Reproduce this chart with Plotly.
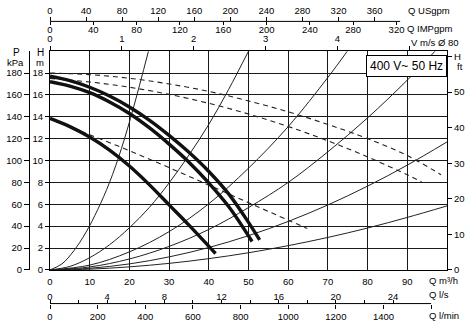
import plotly.graph_objects as go

# ---------------- data (Q in m3/h, H in m) ----------------
# pump curves (thick)
pump1_q = [0, 5, 10, 15, 20, 25, 30, 35, 40, 45, 50, 52.8]
pump1_h = [17.7, 17.3, 16.7, 15.9, 14.9, 13.7, 12.3, 10.75, 9.0, 6.95, 4.35, 2.75]
pump2_q = [0, 5, 10, 15, 20, 25, 30, 35, 40, 45, 50.9]
pump2_h = [17.2, 16.8, 16.2, 15.35, 14.3, 13.0, 11.5, 9.85, 7.95, 5.8, 2.6]
pump3_q = [0, 5, 10, 15, 20, 25, 30, 35, 41.7]
pump3_h = [13.85, 13.1, 12.15, 10.95, 9.5, 7.8, 5.95, 4.1, 1.5]

# dashed curves
dash1_q = [0, 10, 20, 30, 40, 50, 60, 70, 80, 90, 98.5]
dash1_h = [18.0, 17.85, 17.52, 17.0, 16.32, 15.45, 14.45, 13.3, 12.0, 10.45, 8.7]
dash2_q = [0, 10, 20, 30, 40, 50, 60, 70, 80, 90, 93.6]
dash2_h = [17.5, 17.18, 16.7, 16.05, 15.23, 14.25, 13.11, 11.8, 10.33, 8.69, 8.06]
dash3_q = [1.5, 10, 20, 30, 40, 50, 60, 64.8]
dash3_h = [13.55, 12.35, 10.9, 9.35, 7.75, 6.15, 4.55, 3.79]

# system curves (thin)
sysa_q = [0, 3, 6, 9, 12, 15, 18, 21, 24.8]
sysa_h = [0, 0.55, 1.75, 3.4, 5.5, 8.0, 11.1, 14.8, 20]
sysb_q = [0, 5, 10, 15, 20, 25, 30, 35, 40, 45, 50]
sysb_h = [0, 0.32, 1.12, 2.3, 3.85, 5.7, 7.95, 10.5, 13.3, 16.5, 20]
sysc_q = [0, 10, 20, 30, 40, 50, 60, 70, 74.9]
sysc_h = [0, 0.44, 1.65, 3.5, 6.05, 9.3, 13.1, 17.6, 20]
sysd_q = [0, 10, 20, 30, 40, 50, 60, 70, 80, 90, 97]
sysd_h = [0, 0.27, 1.0, 2.15, 3.7, 5.7, 8.0, 10.8, 13.9, 17.35, 20]
syse_q = [0, 10, 20, 30, 40, 50, 60, 70, 80, 90, 100]
syse_h = [0, 0.15, 0.55, 1.19, 2.05, 3.13, 4.43, 5.94, 7.66, 9.58, 11.7]
sysf_q = [0, 10, 20, 30, 40, 50, 60, 70, 80, 90, 100]
sysf_h = [0, 0.07, 0.28, 0.6, 1.03, 1.57, 2.22, 2.97, 3.83, 4.8, 5.85]

# tick labels
q_m3h_ticks = [0, 10, 20, 30, 40, 50, 60, 70, 80, 90]
h_m_ticks = [0, 2, 4, 6, 8, 10, 12, 14, 16, 18]
p_kpa_ticks = [0, 20, 40, 60, 80, 100, 120, 140, 160, 180]
h_ft_ticks = [0, 10, 20, 30, 40, 50, 60]
h_ft_text = ["0", "10", "20", "30", "40", "50", "H"]
usgpm_ticks = [0, 40, 80, 120, 160, 200, 240, 280, 320, 360]
impgpm_ticks = [0, 40, 80, 120, 160, 200, 240, 280, 320]
v_ticks = [0, 1, 2, 3, 4, 5]
v_text = ["0", "1", "2", "3", "4", ""]
ls_ticks = [0, 2, 4, 6, 8, 10, 12, 14, 16, 18, 20, 22, 24]
ls_text = ["0", "", "4", "", "8", "", "12", "", "16", "", "20", "", "24"]
lmin_ticks = [0, 200, 400, 600, 800, 1000, 1200, 1400, 1600]
lmin_text = ["0", "200", "400", "600", "800", "1000", "1200", "1400", ""]

# ---------------- geometry ----------------
W, HGT = 471, 328
ML, MR, MT, MB = 20, 24, 5, 5
PW, PH = W - ML - MR, HGT - MT - MB

def px(x):
    return (x - ML) / PW

def py(y):
    return (HGT - MB - y) / PH

QMAX = 100.0
HMAX = 20.0
XD = [px(50), 1.0]
YD = [py(274), py(51)]

US = 1000 / 3.785411784 / 60
IMP = 1000 / 4.54609 / 60
LS = 1 / 3.6
LMIN = 1000 / 60
VEL = 1 / 3600 / (3.14159265 * 0.04 ** 2)

FONT = "Liberation Sans, Arial, sans-serif"
FS = 9.5
tf = dict(family=FONT, size=FS, color="black")

fig = go.Figure()

def add(q, h, width, dash=None, color="#1a1a1a"):
    fig.add_trace(go.Scatter(x=q, y=h, mode="lines", line_shape="spline",
                             line=dict(color=color, width=width, dash=dash),
                             showlegend=False, hoverinfo="skip"))

for q, h in [(sysa_q, sysa_h), (sysb_q, sysb_h), (sysc_q, sysc_h),
             (sysd_q, sysd_h), (syse_q, syse_h), (sysf_q, sysf_h)]:
    add(q, h, 1.0, color="#222222")
for q, h in [(dash1_q, dash1_h), (dash2_q, dash2_h), (dash3_q, dash3_h)]:
    add(q, h, 1.1, dash="5px,4px", color="#222222")
for q, h in [(pump1_q, pump1_h), (pump2_q, pump2_h), (pump3_q, pump3_h)]:
    add(q, h, 3.4, color="#111111")

# invisible traces to bind the extra axes
for xa, ya in [("x2", "y"), ("x3", "y"), ("x4", "y"), ("x5", "y"), ("x6", "y"),
               ("x", "y2"), ("x", "y3")]:
    fig.add_trace(go.Scatter(x=[None], y=[None], xaxis=xa, yaxis=ya,
                             showlegend=False, hoverinfo="skip"))

common = dict(showgrid=False, zeroline=False, tickfont=tf, tickcolor="black",
              linecolor="black", linewidth=1, tickwidth=1, fixedrange=True)

fig.update_layout(
    width=W, height=HGT,
    margin=dict(l=ML, r=MR, t=MT, b=MB),
    paper_bgcolor="white", plot_bgcolor="rgba(0,0,0,0)",
    font=dict(family=FONT, size=FS, color="black"),
    xaxis=dict(common, domain=XD, range=[0, QMAX], anchor="y", side="bottom",
               showline=True, tickmode="array", tickvals=q_m3h_ticks,
               ticks="", ticklabelstandoff=3,
               showgrid=True, gridcolor="#1a1a1a", gridwidth=1),
    yaxis=dict(common, domain=YD, range=[0, HMAX], anchor="x", side="left",
               showline=True, tickmode="array", tickvals=h_m_ticks,
               ticks="outside", ticklen=4,
               showgrid=True, gridcolor="#1a1a1a", gridwidth=1),
    yaxis2=dict(common, overlaying="y", anchor="x", side="right",
                range=[0, 61.5], showline=True, tickmode="array",
                tickvals=h_ft_ticks, ticktext=h_ft_text,
                ticks="outside", ticklen=4),
    yaxis3=dict(common, overlaying="y", anchor="free", position=px(29), side="left",
                range=[0, 200], showline=True, tickmode="array",
                tickvals=p_kpa_ticks, ticks="outside", ticklen=5),
    xaxis2=dict(common, overlaying="x", anchor="y", side="top",
                range=[0, QMAX * VEL], showline=True, tickmode="array",
                tickvals=v_ticks, ticktext=v_text, ticks="outside", ticklen=4),
    xaxis3=dict(common, overlaying="x", anchor="free", position=py(20.7), side="top",
                range=[0, QMAX * US], showline=False, tickmode="array",
                tickvals=usgpm_ticks, ticks="outside", ticklen=4),
    xaxis4=dict(common, overlaying="x", anchor="free", position=py(20.7), side="bottom",
                range=[0, QMAX * IMP], showline=False, tickmode="array",
                tickvals=impgpm_ticks, ticks="outside", ticklen=3,
                ticklabelstandoff=-4),
    xaxis5=dict(common, overlaying="x", anchor="free", position=py(308.3), side="top",
                range=[0, QMAX * LS], showline=False, tickmode="array",
                tickvals=ls_ticks, ticktext=ls_text, ticks="outside", ticklen=4,
                ticklabelstandoff=-4),
    xaxis6=dict(common, overlaying="x", anchor="free", position=py(308.3), side="bottom",
                range=[0, QMAX * LMIN], showline=False, tickmode="array",
                tickvals=lmin_ticks, ticktext=lmin_text, ticks="outside", ticklen=4),
)

# axis lines of the free scales (span shorter than the plot)
fig.add_shape(type="line", xref="x", yref="paper", x0=0, x1=88.2,
              y0=py(20.7), y1=py(20.7), line=dict(color="black", width=1))
fig.add_shape(type="line", xref="x", yref="paper", x0=0, x1=96,
              y0=py(308.3), y1=py(308.3), line=dict(color="black", width=1))

def ann(text, x, y, xanchor="left", size=FS, **kw):
    fig.add_annotation(text=text, x=px(x), y=py(y), xref="paper", yref="paper",
                       xanchor=xanchor, yanchor="middle", showarrow=False,
                       font=dict(family=FONT, size=size, color="black"), **kw)

ann("P", 16, 52, "center", size=10)
ann("kPa", 15, 63, "center")
ann("H", 40, 52, "center", size=10)
ann("m", 40, 63, "center")
ann("ft", 455, 67, "left")
ann("Q USgpm", 406, 10)
ann("Q IMPgpm", 405, 28)
ann("V m/s Ø 80", 461, 42, "right")
ann("Q m³/h", 427, 284.5)
ann("Q l/s", 427, 299)
ann("Q l/min", 427, 320)
fig.add_annotation(text="400 V~ 50 Hz", x=px(406.5), y=py(66.5), xref="paper", yref="paper",
                   xanchor="center", yanchor="middle", showarrow=False,
                   font=dict(family=FONT, size=12, color="black"),
                   bgcolor="white", bordercolor="black", borderwidth=1, borderpad=3)

fig.write_html("out.html")
